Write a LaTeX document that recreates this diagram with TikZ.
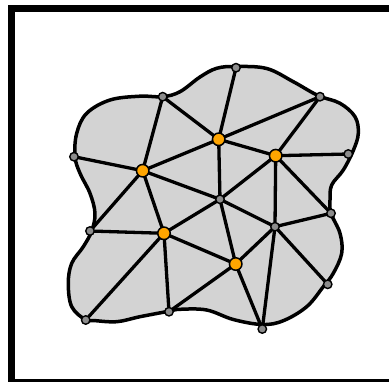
\documentclass[tikz,border=0pt]{standalone}
\begin{document}
\begin{tikzpicture}[x=1pt,y=-1pt,
  edge/.style={line width=3.3pt},
  inner/.style={circle,draw=black,fill=orange,line width=1.5pt,minimum size=12.5pt,inner sep=0pt,outer sep=0pt},
  bnd/.style={circle,draw=black,fill=gray!90,line width=1.4pt,minimum size=8.5pt,inner sep=0pt,outer sep=0pt}]
\definecolor{orange}{HTML}{FFA500}
\definecolor{blob}{HTML}{D3D3D3}
\useasboundingbox (0,0) rectangle (389,381);
\draw[line width=7pt] (11.5,8.5) rectangle (392,382.5);
% boundary vertex positions
\coordinate (b1) at (236,67.7);
\coordinate (b2) at (320,96.7);
\coordinate (b3) at (348.3,154);
\coordinate (b4) at (331,213.3);
\coordinate (b5) at (327.7,284.3);
\coordinate (b6) at (262.3,329);
\coordinate (b7) at (169,311.7);
\coordinate (b8) at (85.7,320);
\coordinate (b9) at (90,231);
\coordinate (b10) at (74,156.7);
\coordinate (b11) at (162.7,96.7);
% outline
\draw[line width=3.5pt,fill=blob,line join=round] plot[smooth cycle,tension=0.6] coordinates {
 (b11) (180,91.7) (200,77) (216.7,68.3) (236,66.5) (266.7,68.5) (293.3,81.7) (318,95.5)
 (340,103.3) (355,116.7) (358.3,133.3) (353.5,150) (343.3,170) (331.7,185) (330,200) (331,213.3)
 (340,233.3) (341.7,253.3) (333.3,273.3) (323.3,286.7) (306.7,306.7) (283.3,320.7) (262.3,324.5)
 (233.3,319.5) (206.7,310) (180,309.3) (169,311.2) (140,316.7) (116.7,321.7) (93.3,320.5) (85.7,320)
 (71.7,306.7) (68.3,283.3) (71.7,263.3) (83.3,246.7) (91.7,231) (95,213.3) (90,193.3) (80,173.3)
 (75,156.7) (76.7,133.3) (86.7,113.3) (110,100) (140,96.2)};
% vertices
\node[bnd] (B1) at (b1) {};
\node[bnd] (B2) at (b2) {};
\node[bnd] (B3) at (b3) {};
\node[bnd] (B4) at (b4) {};
\node[bnd] (B5) at (b5) {};
\node[bnd] (B6) at (b6) {};
\node[bnd] (B7) at (b7) {};
\node[bnd] (B8) at (b8) {};
\node[bnd] (B9) at (b9) {};
\node[bnd] (B10) at (b10) {};
\node[bnd] (B11) at (b11) {};
\node[bnd] (G1) at (220,199.3) {};
\node[bnd] (G2) at (275,226.7) {};
\node[inner] (O1) at (218.7,139.3) {};
\node[inner] (O2) at (275.7,155.7) {};
\node[inner] (O3) at (142.7,170.7) {};
\node[inner] (O4) at (164,233.3) {};
\node[inner] (O5) at (235.7,264) {};
% edges
\draw[edge] (B11) -- (O3);
\draw[edge] (B11) -- (O1);
\draw[edge] (B1) -- (O1);
\draw[edge] (O1) -- (B2);
\draw[edge] (B2) -- (O2);
\draw[edge] (O1) -- (O2);
\draw[edge] (O1) -- (O3);
\draw[edge] (O1) -- (G1);
\draw[edge] (O2) -- (B3);
\draw[edge] (O2) -- (G1);
\draw[edge] (O2) -- (G2);
\draw[edge] (O2) -- (B4);
\draw[edge] (O3) -- (B10);
\draw[edge] (O3) -- (B9);
\draw[edge] (O3) -- (O4);
\draw[edge] (O3) -- (G1);
\draw[edge] (B9) -- (O4);
\draw[edge] (O4) -- (B8);
\draw[edge] (O4) -- (B7);
\draw[edge] (O4) -- (G1);
\draw[edge] (O4) -- (O5);
\draw[edge] (G1) -- (O5);
\draw[edge] (G1) -- (G2);
\draw[edge] (G2) -- (B4);
\draw[edge] (G2) -- (O5);
\draw[edge] (G2) -- (B6);
\draw[edge] (G2) -- (B5);
\draw[edge] (O5) -- (B7);
\draw[edge] (O5) -- (B6);
\end{tikzpicture}
\end{document}
